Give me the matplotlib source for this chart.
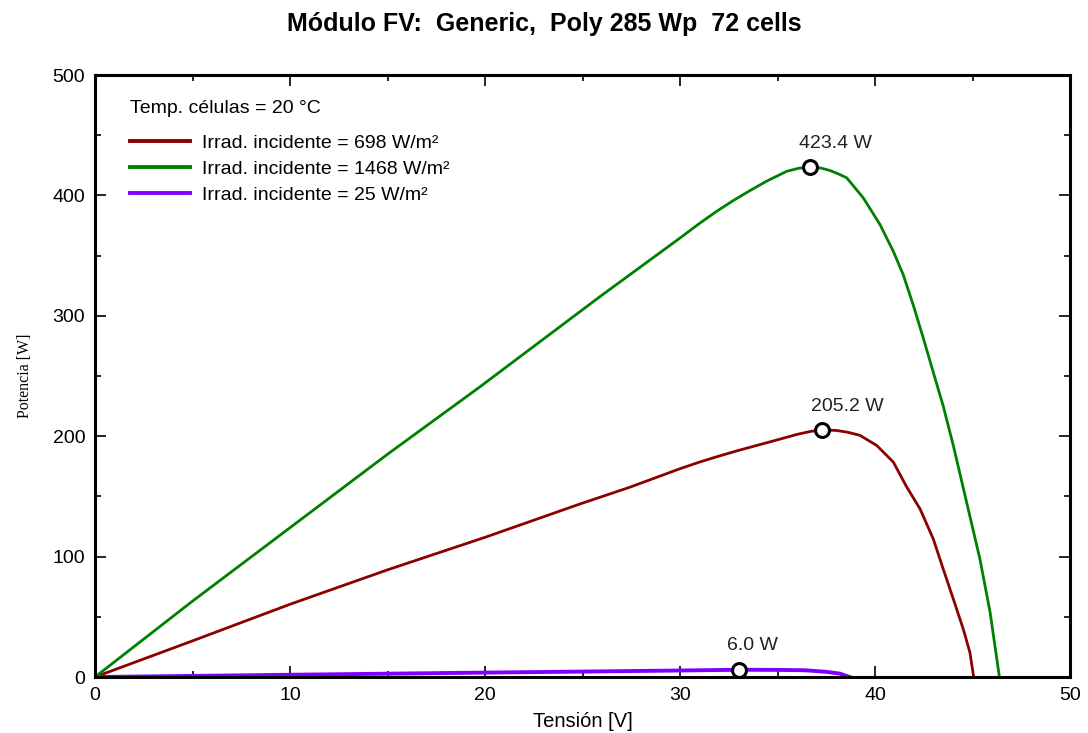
import matplotlib
matplotlib.use("Agg")
import matplotlib.pyplot as plt
from matplotlib.ticker import MultipleLocator

plt.rcParams['font.family'] = ['Liberation Sans', 'DejaVu Sans']

# ---- data ----
v_698 = [0, 5, 10, 15, 20, 24.87, 27.44, 30.0, 31.0, 32.0, 33.0, 34.0, 35.0, 36.0, 36.7,
         37.3, 38.0, 38.6, 39.23, 40.09, 40.94, 41.62, 42.31, 42.99, 43.5, 44.02, 44.53,
         44.87, 45.06]
p_698 = [0, 30, 60.4, 89, 116, 143.7, 157.7, 173, 178.5, 183.5, 188.2, 192.6, 197, 201.5,
         204, 205.2, 204.8, 203.3, 200.7, 192.3, 178.5, 158, 139.6, 114.6, 89.6, 64.6, 39.6,
         20.2, 0]

v_1468 = [0, 5, 10, 15, 19.74, 25.9, 30.0, 31.03, 31.88, 32.73, 33.59, 34.44, 35.47, 36.1,
          36.67, 37.2, 37.69, 38.1, 38.55, 39.4, 40.26, 40.94, 41.45, 41.96, 42.48, 42.99,
          43.5, 44.02, 44.7, 45.38, 45.9, 46.38]
p_1468 = [0, 63, 124, 185, 241, 316, 364.6, 377.1, 386.8, 395.7, 404, 411.8, 420, 422.6,
          423.4, 422.8, 420.7, 418, 414.6, 397.9, 375.7, 353.5, 334, 309, 281.3, 253,
          225, 192, 145, 98, 54, 0]

v_25 = [0, 5, 10, 15, 20, 25, 30, 33.0, 35, 36.4, 37.5, 38.2, 38.7]
p_25 = [0, 0.9, 1.85, 2.75, 3.65, 4.5, 5.4, 6.0, 5.9, 5.6, 4.3, 2.8, 0]

mpp_v = [37.3, 36.67, 33.0]
mpp_p = [205.2, 423.4, 6.0]
mpp_labels = ["205.2 W", "423.4 W", "6.0 W"]

series_labels = ["Irrad. incidente = 698 W/m²", "Irrad. incidente = 1468 W/m²",
                 "Irrad. incidente = 25 W/m²"]
colors = ["#8B0000", "#008000", "#8000FF"]

# ---- figure ----
fig = plt.figure(figsize=(10.88, 7.33), dpi=100)
ax = fig.add_axes([95/1088, 1-677/733, 975/1088, 602/733])

ax.plot(v_698, p_698, color=colors[0], lw=2.0, label=series_labels[0])
ax.plot(v_1468, p_1468, color=colors[1], lw=2.0, label=series_labels[1])
ax.plot(v_25, p_25, color=colors[2], lw=2.8, label=series_labels[2])

ax.plot(mpp_v, mpp_p, linestyle='none', marker='o', ms=10, mfc='white', mec='black',
        mew=2.2, zorder=5)
for x, y, t in zip(mpp_v, mpp_p, mpp_labels):
    ax.annotate(t, (x, y), xytext=(-8, 11), textcoords='offset points',
                ha='left', va='bottom', fontsize=14, color='#222222')

ax.set_xlim(0, 50)
ax.set_ylim(0, 500)
ax.xaxis.set_major_locator(MultipleLocator(10))
ax.xaxis.set_minor_locator(MultipleLocator(5))
ax.yaxis.set_major_locator(MultipleLocator(100))
ax.yaxis.set_minor_locator(MultipleLocator(50))
ax.tick_params(which='both', direction='in', top=True, right=True, width=1.2,
               labelsize=14, pad=7)
ax.tick_params(which='major', length=8)
ax.tick_params(which='minor', length=4)
for s in ax.spines.values():
    s.set_linewidth(2.2)

ax.set_xlabel("Tensión [V]", fontsize=14.5, labelpad=6)
ax.set_ylabel("Potencia [W]", fontsize=11.5, family=['Liberation Serif'], labelpad=14)
fig.suptitle("Módulo FV:  Generic,  Poly 285 Wp  72 cells", fontsize=18,
             fontweight='bold', y=0.984)

leg = ax.legend(loc='upper left', bbox_to_anchor=(0.036, 0.958), frameon=False,
                borderpad=0, borderaxespad=0,
                title="Temp. células = 20 °C", title_fontsize=14, fontsize=14,
                handlelength=3.1, handletextpad=0.6, labelspacing=0.43,
                alignment='left')
leg._legend_box.sep = 12
for line in leg.get_lines():
    line.set_linewidth(2.8)

fig.savefig("out.png", dpi=100)
